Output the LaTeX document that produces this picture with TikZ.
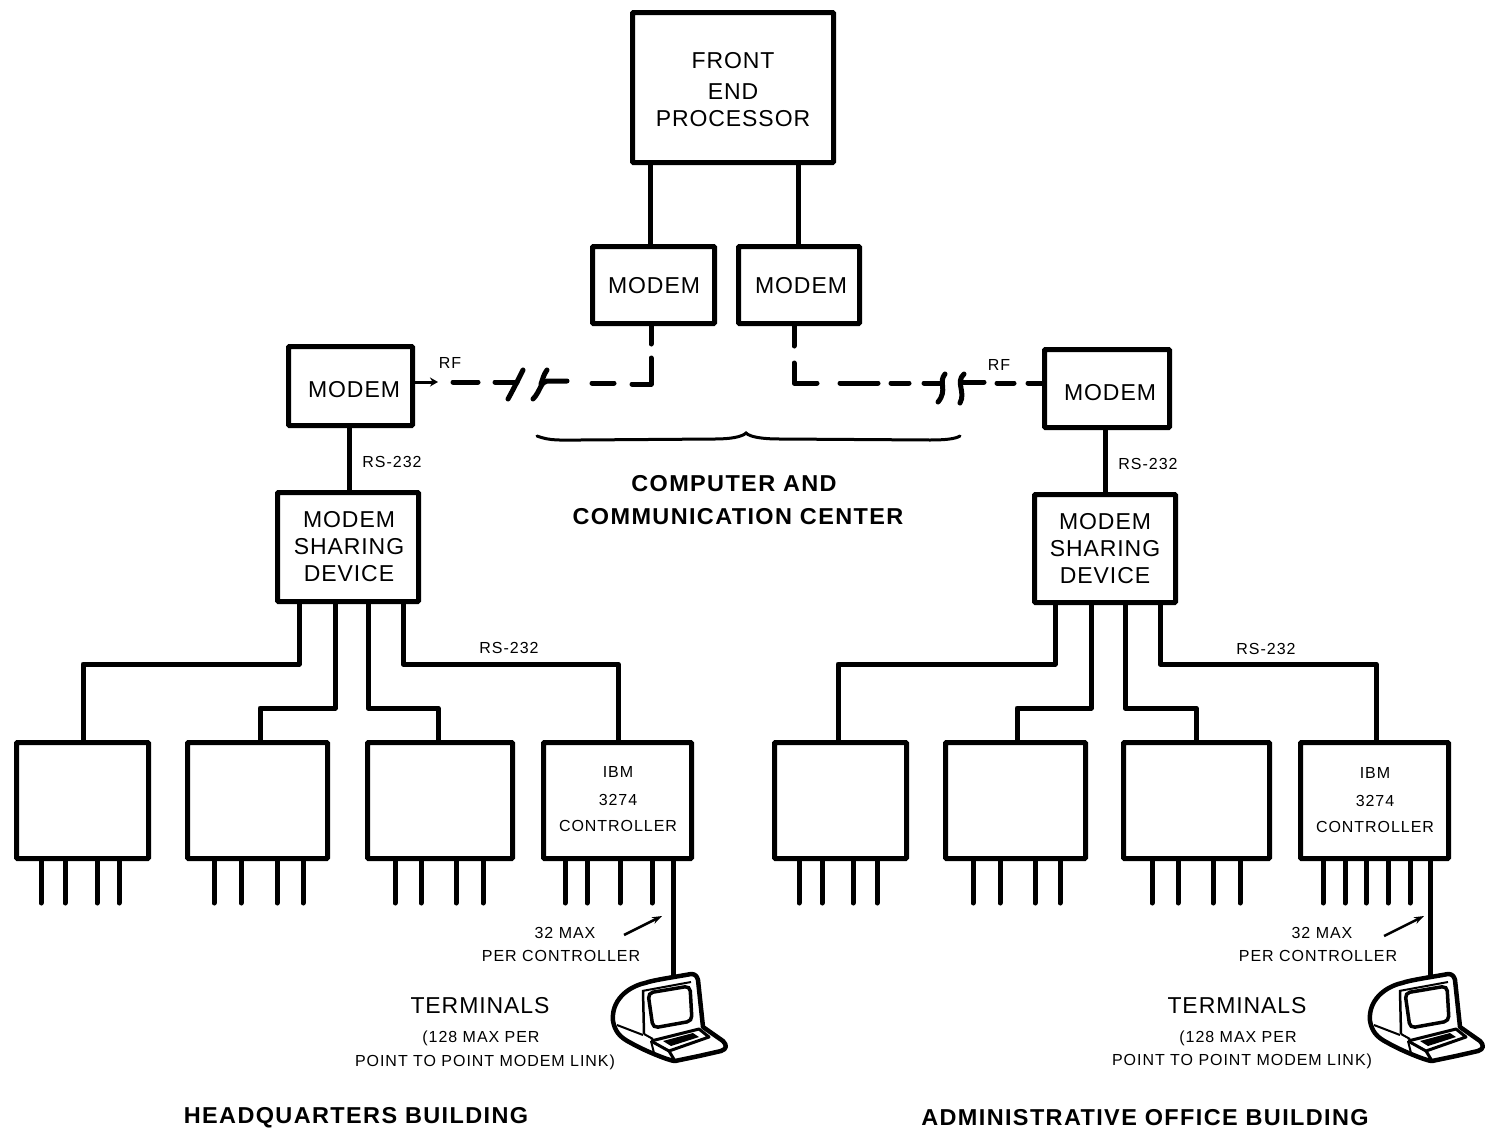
\documentclass[tikz,border=0pt]{standalone}
\usepackage{fontspec}
\setmainfont{Liberation Sans}
\usetikzlibrary{arrows.meta}
\newfontfamily\lblfont[LetterSpace=4]{Liberation Sans}
\newfontfamily\smfont[LetterSpace=6]{Liberation Sans}
\newfontfamily\bigbold[LetterSpace=6,FakeStretch=1.02]{Liberation Sans Bold}
\tikzset{
  line/.style={line width=5pt,line join=round,line cap=round},
  dashseg/.style={line width=5pt,line join=round,line cap=round},
  box/.style={draw,line width=5pt,rounded corners=1pt,align=center,inner sep=0pt,font=\lblfont\fontsize{23}{30}\selectfont},
  small/.style={font=\smfont\fontsize{16}{24}\selectfont,align=center,inner sep=0pt},
  mid/.style={font=\lblfont\fontsize{23}{30}\selectfont,align=center,inner sep=0pt},
  head/.style={font=\bigbold\fontsize{23}{33}\selectfont,align=center,inner sep=0pt},
}
\newcommand{\bx}[6][]{\node[box,minimum width=#5pt-#3pt-5pt,minimum height=#6pt-#4pt-5pt,#1] (#2) at ({(#3+#5)/2},{(#4+#6)/2}) {};}
\newcommand{\terminal}[2]{%
 \begin{scope}[shift={(#1,#2)}]
  % outer shell
  \draw[line width=4.5pt,line join=round,fill=white] (0,0) .. controls (8,-3) and (30,-6) .. (46,-9) .. controls (50,-9) and (52,-7) .. (53,-3)
     -- (58,44) -- (78,58) .. controls (82,62) and (82,66) .. (76,68) -- (54,73) -- (30,78) .. controls (25,78) and (0,68) .. (-14,60)
     .. controls (-26,54) and (-30,48) .. (-32,38) .. controls (-34,18) and (-18,4) .. (0,0) -- cycle;
  % screen housing
  \draw[line width=2pt] (-3,8) -- (46,-1);
  \draw[line width=2.5pt] (-2,8) -- (-1,51);
  \draw[line width=2pt] (-28,42) -- (-2,52);
  \draw[line width=2pt] (-1,51) -- (8,56);
  % screen
  \draw[line width=3.5pt,rounded corners=5pt] (3,10) -- (45,3) -- (47,38) -- (8,45) -- cycle;
  % keyboard
  \draw[line width=3pt,line join=round] (6,58) -- (54,46) -- (64,54) -- (24,68) -- (30,78);
  \draw[line width=3pt] (6,58) -- (24,68);
  \draw[line width=2pt] (6,58) -- (9,70);
  \fill (18,58) -- (48,50) -- (54,54) -- (26,63) -- cycle;
 \end{scope}}
\begin{document}
\begin{tikzpicture}[x=1pt,y=-1pt]
\useasboundingbox (0,0) rectangle (1485,1135);
% boxes
\bx{fep}{630}{10}{836}{165}
\bx{ma}{590}{244}{717}{326}
\bx{mb}{736}{244}{862}{326}
\bx{ml}{286}{344}{415}{428}
\bx{mr}{1042}{347}{1172}{430}
\bx{sl}{275}{490}{421}{604}
\bx{sr}{1032}{492}{1178}{605}
\bx{la}{14}{740}{151}{861}
\bx{lb}{185}{740}{330}{861}
\bx{lc}{365}{740}{515}{861}
\bx{ld}{541}{740}{694}{861}
\bx{ra}{772}{740}{909}{861}
\bx{rb}{943}{740}{1088}{861}
\bx{rc}{1121}{740}{1272}{861}
\bx{rd}{1298}{740}{1451}{861}
% box texts
\node[mid] at (733,61) {FRONT};
\node[mid] at (733,92) {END};
\node[mid] at (733,119) {PROCESSOR};
\node[mid] at (654,286) {MODEM};
\node[mid] at (801,286) {MODEM};
\node[mid] at (354,390) {MODEM};
\node[mid] at (1110,393) {MODEM};
\node[mid] at (349,520) {MODEM};
\node[mid] at (349,547) {SHARING};
\node[mid] at (349,574) {DEVICE};
\node[mid] at (1105,522) {MODEM};
\node[mid] at (1105,549) {SHARING};
\node[mid] at (1105,576) {DEVICE};
\node[small] at (618,772) {IBM};
\node[small] at (618,800) {3274};
\node[small] at (618,826) {CONTROLLER};
\node[small] at (1375,773) {IBM};
\node[small] at (1375,801) {3274};
\node[small] at (1375,827) {CONTROLLER};
% upper connectors
\draw[line] (fep.south -| 650,0) -- (ma.north -| 650,0);
\draw[line] (fep.south -| 798,0) -- (mb.north -| 798,0);
\draw[line] (ml.south -| 349,0) -- (sl.north -| 349,0);
\draw[line] (mr.south -| 1105,0) -- (sr.north -| 1105,0);
% left RF link
\draw[line] (ma.south -| 651,0) -- ++(0,18);
\coordinate (lc1) at (651,358);
\coordinate (lc2) at (632,384);
\draw[dashseg] (lc1) -- (651,384) -- (lc2);
\draw[dashseg] (614,383) -- (592,383);
\draw[dashseg] (567,381) -- (547,381) .. controls (541,381) and (540,392) .. (533,399);
\draw[dashseg] (547,370) .. controls (544,374) and (543,378) .. (541,384);
\draw[dashseg] (517,382) -- (495,382);
\draw[dashseg] (523,370) .. controls (518,380) and (513,390) .. (508,399);
\draw[dashseg] (478,382) -- (453,382);
\draw[line width=3pt,-{Stealth[length=8pt,width=9pt]}] (ml.east |- 0,382) -- ++(23,0);
% right RF link
\draw[line] (mb.south -| 794,0) -- ++(0,20);
\draw[dashseg] (794,363) -- (794,383) -- (817,383);
\draw[dashseg] (840,383) -- (878,383);
\draw[dashseg] (891,383) -- (909,383);
\draw[dashseg] (924,383) -- (942,383);
\draw[dashseg] (945,374) .. controls (938,382) and (948,390) .. (938,402);
\draw[dashseg] (964,374) .. controls (955,382) and (966,392) .. (960,403);
\draw[dashseg] (961,382) -- (984,382);
\draw[dashseg] (997,383) -- (1014,383);
\draw[dashseg] (1028,383) -- (mr.west |- 0,383);
% brace
\draw[line width=3pt,line cap=round] (537,436) .. controls (550,441) and (560,440) .. (580,440) -- (715,439) .. controls (730,439) and (742,437) .. (746,433) .. controls (750,437) and (762,439) .. (780,439) -- (930,440) .. controls (945,440) and (955,439) .. (960,436);
% lower connectors
\foreach \s/\b in {sl/la,sr/ra}{}
\draw[line] (sl.south -| 299,0) -- (299,664) -- (83,664) -- (la.north -| 83,0);
\draw[line] (sl.south -| 335,0) -- (335,708) -- (260,708) -- (lb.north -| 260,0);
\draw[line] (sl.south -| 368,0) -- (368,708) -- (438,708) -- (lc.north -| 438,0);
\draw[line] (sl.south -| 403,0) -- (403,664) -- (618,664) -- (ld.north -| 618,0);
\draw[line] (sr.south -| 1055,0) -- (1055,664) -- (838,664) -- (ra.north -| 838,0);
\draw[line] (sr.south -| 1091,0) -- (1091,708) -- (1017,708) -- (rb.north -| 1017,0);
\draw[line] (sr.south -| 1125,0) -- (1125,708) -- (1196,708) -- (rc.north -| 1196,0);
\draw[line] (sr.south -| 1160,0) -- (1160,664) -- (1376,664) -- (rd.north -| 1376,0);
% stubs
\foreach \x in {41,65,97,119} \draw[line] (la.south -| \x,0) -- ++(0,42);
\foreach \x in {214,241,277,303} \draw[line] (lb.south -| \x,0) -- ++(0,42);
\foreach \x in {395,421,456,483} \draw[line] (lc.south -| \x,0) -- ++(0,42);
\foreach \x in {565,587,620,652} \draw[line] (ld.south -| \x,0) -- ++(0,42);
\foreach \x in {799,822,853,877} \draw[line] (ra.south -| \x,0) -- ++(0,42);
\foreach \x in {973,1000,1035,1060} \draw[line] (rb.south -| \x,0) -- ++(0,42);
\foreach \x in {1152,1178,1213,1240} \draw[line] (rc.south -| \x,0) -- ++(0,42);
\foreach \x in {1323,1345,1366,1388,1410} \draw[line] (rd.south -| \x,0) -- ++(0,42);
\draw[line width=5pt] (ld.south -| 673,0) -- (673,978);
\draw[line width=5pt] (rd.south -| 1430,0) -- (1430,978);
% terminals
\terminal{645}{983}
\terminal{1402}{983}
% labels
\node[small] at (450,363) {RF};
\node[small] at (999,365) {RF};
\node[small] at (392,462) {RS-232};
\node[small] at (1148,464) {RS-232};
\node[small] at (509,648) {RS-232};
\node[small] at (1266,649) {RS-232};
\node[head] at (734,484) {COMPUTER AND};
\node[head] at (738,517) {COMMUNICATION CENTER};
\node[small] at (565,933) {32 MAX};
\node[small] at (561,956) {PER CONTROLLER};
\node[small] at (1322,933) {32 MAX};
\node[small] at (1318,956) {PER CONTROLLER};
\draw[line width=2.5pt,-{Stealth[length=10pt,width=7pt]}] (624,935) -- (662,916);
\draw[line width=2.5pt,-{Stealth[length=10pt,width=7pt]}] (1384,936) -- (1424,916);
\node[mid] at (480,1006) {TERMINALS};
\node[mid] at (1237,1006) {TERMINALS};
\node[small] at (481,1038) {(128 MAX PER};
\node[small] at (485,1062) {POINT TO POINT MODEM LINK)};
\node[small] at (1238,1038) {(128 MAX PER};
\node[small] at (1242,1061) {POINT TO POINT MODEM LINK)};
\node[head] at (356,1118) {HEADQUARTERS BUILDING};
\node[head] at (1145,1118) {ADMINISTRATIVE OFFICE BUILDING};
\end{tikzpicture}
\end{document}
